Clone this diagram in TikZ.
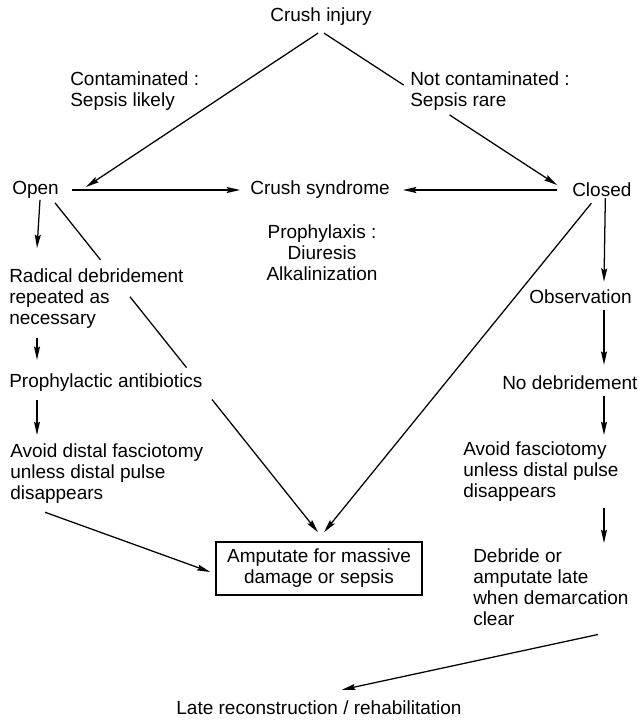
\documentclass[tikz,border=0pt]{standalone}
\usepackage{fontspec}
\setmainfont{Liberation Sans}
\usetikzlibrary{arrows.meta}
\begin{document}
\begin{tikzpicture}[x=0.75pt,y=-0.75pt,
  txt/.style={inner sep=0pt, font=\fontsize{14.25pt}{15.75pt}\selectfont, align=left},
  conn/.style={line width=0.95pt},
  arr/.style={conn, -{Stealth[length=10pt,width=4.5pt,inset=1.5pt]}},
  outcome/.style={txt, draw, line width=1.1pt, align=center,
    minimum width=154.5pt, minimum height=39.75pt}]
\fill[white] (0,0) rectangle (643,721);
\useasboundingbox (0,0) rectangle (643,721);

% top of the tree
\node[txt] (crush) at (321,17) {Crush injury};
\node[txt, anchor=north west] (cont) at (70,71) {Contaminated :\\Sepsis likely};
\node[txt, anchor=north west] (notcont) at (410,71) {Not contaminated :\\Sepsis rare};

% open / closed split
\node[txt, anchor=west] (open) at (12,190) {Open};
\node[txt] (syn) at (320,190) {Crush syndrome};
\node[txt, anchor=west] (closed) at (572,190) {Closed};
\node[txt, anchor=north, align=center] (proph) at (322,224) {Prophylaxis :\\Diuresis\\Alkalinization};

% open wound branch
\node[txt, anchor=north west] (radical) at (9,268) {Radical debridement\\repeated as\\necessary};
\node[txt, anchor=west] (antib) at (9,383) {Prophylactic antibiotics};
\node[txt, anchor=north west] (avoidL) at (10,443) {Avoid distal fasciotomy\\unless distal pulse\\disappears};

% closed wound branch
\node[txt, anchor=west] (obs) at (529,297) {Observation};
\node[txt, anchor=west] (nodeb) at (502,383) {No debridement};
\node[txt, anchor=north west] (avoidR) at (463,441) {Avoid fasciotomy\\unless distal pulse\\disappears};
\node[txt, anchor=north west] (debride) at (473,548) {Debride or\\amputate late\\when demarcation\\clear};

% outcomes
\node[outcome] (amp) at (319,568.5) {Amputate for massive\\damage or sepsis};
\node[txt] (late) at (319,708) {Late reconstruction / rehabilitation};

% crush injury to open / closed
\draw[arr] ([shift={(-3,7)}]crush.south) -- ([shift={(27,-3)}]open.east);
\path ([shift={(3,7)}]crush.south) coordinate (r0) -- ([shift={(-15,-5)}]closed.west) coordinate (r1)
  coordinate[pos=0.342] (rg0) coordinate[pos=0.539] (rg1);
\draw[conn] (r0) -- (rg0);
\draw[arr] (rg1) -- (r1);

% both lead to crush syndrome
\draw[arr] ([shift={(13,0)}]open.east) -- ([shift={(-10,0)}]syn.west);
\draw[arr] ([shift={(-15,0)}]closed.west) -- ([shift={(13,0)}]syn.east);

% open branch steps
\draw[arr] ([shift={(4.5,1)}]open.south) -- ([shift={(28,-20)}]radical.north west);
\draw[arr] ([shift={(28,10)}]radical.south west) -- ([shift={(28,-14)}]antib.north west);
\draw[arr] ([shift={(28,8)}]antib.south west) -- ([shift={(27,-8)}]avoidL.north west);
\draw[arr] ([shift={(35,9)}]avoidL.south west) -- ([shift={(-5,3.5)}]amp.west);

% direct line open -> amputation, broken where it crosses the text
\path ([shift={(-4,4)}]open.south east) coordinate (d0) -- ([shift={(-1,-9)}]amp.north) coordinate (d1)
  coordinate[pos=0.173] (dg0) coordinate[pos=0.285] (dg1)
  coordinate[pos=0.5] (dg2) coordinate[pos=0.597] (dg3);
\draw[conn] (d0) -- (dg0);
\draw[conn] (dg1) -- (dg2);
\draw[arr] (dg3) -- (d1);

% direct line closed -> amputation
\draw[arr] ([shift={(-10.5,6)}]closed.south) -- ([shift={(5,-9)}]amp.north);

% closed branch steps
\draw[arr] ([shift={(3.5,1)}]closed.south) -- ([shift={(75,-8)}]obs.north west);
\draw[arr] ([shift={(75,6)}]obs.south west) -- ([shift={(102,-11)}]nodeb.north west);
\draw[arr] ([shift={(102,6)}]nodeb.south west) -- ([shift={(141,-6)}]avoidR.north west);
\draw[arr] ([shift={(141,7)}]avoidR.south west) -- ([shift={(131,-5)}]debride.north west);
\draw[arr] ([shift={(125,9)}]debride.south west) -- ([shift={(23,-11)}]late.north);
\end{tikzpicture}
\end{document}
